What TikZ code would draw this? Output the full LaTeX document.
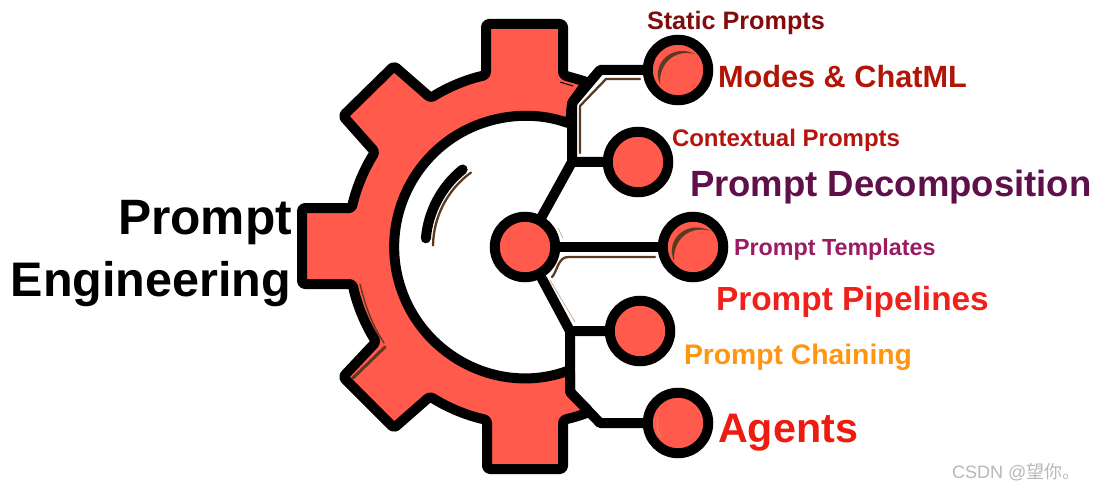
\documentclass[tikz,border=0pt]{standalone}
\usepackage{fontspec}
\setmainfont{Liberation Sans}
\newfontfamily\cjkwm{Noto Sans CJK SC}
\definecolor{gearred}{HTML}{FF5A4C}
\definecolor{hilite}{HTML}{5A3A20}
\definecolor{tanline}{HTML}{B89A80}
\tikzset{
  gearline/.style={draw=black,line width=10pt,line join=round,rounded corners=3pt},
  conn/.style={draw=black,line width=10pt,line join=round},
  disc/.style={circle,draw=black,fill=gearred,line width=10pt,minimum size=60.5pt,inner sep=0pt,outer sep=0pt},
  lab/.style={anchor=base west,inner sep=0pt,outer sep=0pt,font=\bfseries},
  brown/.style={draw=hilite,line width=2.3pt,line cap=round,line join=round},
  thinbrown/.style={draw=tanline,line width=0.6pt},
}
\begin{document}
\begin{tikzpicture}[x=1pt,y=-1pt]
\useasboundingbox (0,0) rectangle (1095,489);
\fill[white] (0,0) rectangle (1095,489);
% gear, in y-up coordinates about its centre
\begin{scope}[shift={(525,247)},y=1pt]
  \path[gearline,fill=gearred]
    (38,172) -- (38,223) -- (-39,223) -- (-39,172)
    arc[start angle=102.8,end angle=122.3,radius=177]
    -- (-131,181) -- (-182,131) -- (-150,95)
    arc[start angle=147.6,end angle=167.4,radius=177]
    -- (-223,39) -- (-223,-37) -- (-172.5,-37)
    arc[start angle=192.1,end angle=212.4,radius=177]
    -- (-182,-130) -- (-131,-181) -- (-95,-149.4)
    arc[start angle=237.5,end angle=257.6,radius=177]
    -- (-38,-222) -- (38,-222) -- (38,-172.9)
    arc[start angle=282.4,end angle=291.4,radius=177]
    -- (45,-145) -- (45,-123)
    arc[start angle=290,end angle=70,radius=131]
    -- (47,144) -- (62,165) -- cycle;
  % highlight arcs in the hollow of the gear
  \draw[black,line width=10pt,line cap=round] (128.8:99.5) arc[start angle=128.8,end angle=175,radius=99.5];
  \draw[brown] (126:92) arc[start angle=126,end angle=179,radius=92];
\end{scope}
% junctions
\coordinate (ja) at (572,103);
\coordinate (jb) at (600,70);
\coordinate (jc) at (572,162);
\coordinate (jd) at (570,331);
\coordinate (je) at (570,392);
\coordinate (jf) at (600,423);
% discs
\node[disc] (modes) at (678,70) {};
\node[disc] (context) at (638,162) {};
\node[disc] (hub) at (525,247) {};
\node[disc] (templ) at (693,247) {};
\node[disc] (chain) at (640,331) {};
\node[disc] (agents) at (678,423) {};
% connectors
\draw[conn] (modes) -- (jb) -- (ja) -- (jc) -- (context);
\draw[conn] (hub) -- (jc);
\draw[conn] (hub) -- (templ);
\draw[conn] (hub) -- (jd) -- (chain);
\draw[conn] (jd) -- (je) -- (jf) -- (agents);
% brown sketch strokes
\draw[brown] (580,153) -- (580,106) -- (606,79) -- (640,79);
\draw[brown] (552,277) .. controls (557,272) and (558,257) .. (568,257) -- (655,257);
\draw[thinbrown] (550,280) -- (575,322);
\draw[thinbrown] (558,228) -- (563,238);
\draw[brown,line width=1.4pt] (360,284) .. controls (365,305) and (372,325) .. (384,343);
\draw[brown,line width=3pt] (385,347) -- (353,378);
\draw[black,line width=1pt] (560,82) -- (573,86);
\fill[hilite] (660,84) .. controls (651,64) and (672,43) .. (695,54)
  .. controls (676,49) and (659,62) .. (660,84) -- cycle;
\fill[hilite] (674,261) .. controls (665,240) and (686,219) .. (711,231)
  .. controls (691,225) and (673,238) .. (674,261) -- cycle;
\draw[thinbrown,line width=0.8pt] (658,417) .. controls (656,425) and (657,432) .. (661,437);
% labels
\node[lab,font=\bfseries\fontsize{49.7}{50}\selectfont,anchor=base east] (t1) at (292,235) {Prompt};
\node[lab,font=\bfseries\fontsize{48.5}{50}\selectfont,anchor=base east] (t2) at (291,296) {Engineering};
\node[lab,font=\bfseries\fontsize{25.2}{25.2}\selectfont,text={rgb,255:red,130;green,12;blue,12}] (t3) at (647,30) {Static Prompts};
\node[lab,font=\bfseries\fontsize{30.7}{30.7}\selectfont,text={rgb,255:red,176;green,21;blue,5}] (t4) at (718,88) {Modes \& ChatML};
\node[lab,font=\bfseries\fontsize{24}{24}\selectfont,text={rgb,255:red,181;green,20;blue,15}] (t5) at (672,147) {Contextual Prompts};
\node[lab,font=\bfseries\fontsize{36.5}{36.5}\selectfont,text={rgb,255:red,95;green,15;blue,74}] (t6) at (690,197) {Prompt Decomposition};
\node[lab,font=\bfseries\fontsize{23.3}{23.3}\selectfont,text={rgb,255:red,155;green,27;blue,99}] (t7) at (734,255) {Prompt Templates};
\node[lab,font=\bfseries\fontsize{33.4}{33.4}\selectfont,text={rgb,255:red,240;green,32;blue,26}] (t8) at (716,310) {Prompt Pipelines};
\node[lab,font=\bfseries\fontsize{28.3}{28.3}\selectfont,text={rgb,255:red,255;green,149;blue,16}] (t9) at (684,364) {Prompt Chaining};
\node[lab,font=\bfseries\fontsize{41.3}{41.3}\selectfont,text={rgb,255:red,238;green,28;blue,16}] (t10) at (718,442) {Agents};
\node[anchor=base west,inner sep=0pt,text=black!28,font=\fontsize{18}{18}\selectfont] (wm) at (952,478) {CSDN @{\cjkwm 望你。}};
\end{tikzpicture}
\end{document}
